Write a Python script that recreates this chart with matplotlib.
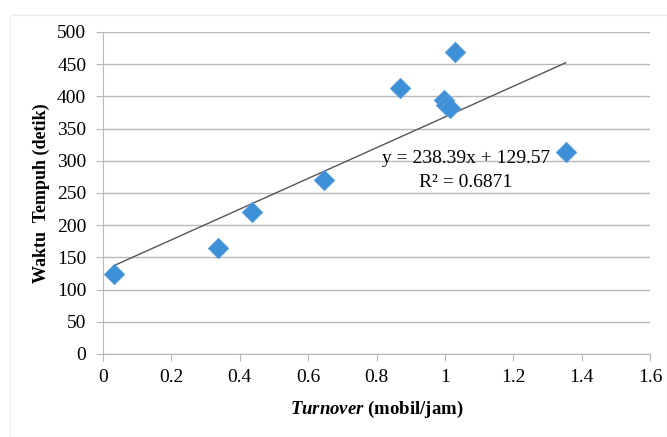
import numpy as np
import matplotlib.pyplot as plt
from matplotlib.patches import Rectangle

# data
turnover = [0.032, 0.335, 0.435, 0.645, 0.870, 0.998, 1.003, 1.015, 1.030, 1.353]
waktu_tempuh = [125, 165, 220, 270, 413, 395, 387, 382, 469, 314]

# garis tren linier (dari persamaan pada grafik)
slope = 238.39
intercept = 129.57
r2 = 0.6871

plt.rcParams['font.family'] = ['Liberation Serif', 'DejaVu Serif']
plt.rcParams['mathtext.fontset'] = 'custom'
plt.rcParams['mathtext.it'] = 'Liberation Serif:italic:bold'
plt.rcParams['mathtext.rm'] = 'Liberation Serif'

fig = plt.figure(figsize=(6.67, 4.37), dpi=100)
fig.patches.append(Rectangle((0.015, 0.0), 0.985, 0.965, transform=fig.transFigure,
                             fill=False, edgecolor='#eeeeee', linewidth=1))
ax = fig.add_axes([103 / 667, 1 - 354 / 437, 547 / 667, 322 / 437])

ax.scatter(turnover, waktu_tempuh, marker='D', s=110, color='#3d8fd6',
           edgecolors='#5aa0e0', linewidths=0.5, zorder=3)

xs = np.array([min(turnover), max(turnover)])
ax.plot(xs, slope * xs + intercept, color='#555555', linewidth=1, zorder=2)

ax.text(1.062, 303, 'y = %.2fx + %.2f' % (slope, intercept), ha='center', va='center', fontsize=14)
ax.text(1.062, 266, 'R² = %.4f' % r2, ha='center', va='center', fontsize=14)

ax.set_xlim(0, 1.6)
ax.set_ylim(0, 500)
ax.set_xticks(np.arange(0, 1.61, 0.2))
ax.set_xticklabels(['0', '0.2', '0.4', '0.6', '0.8', '1', '1.2', '1.4', '1.6'])
ax.set_yticks(np.arange(0, 501, 50))
ax.yaxis.grid(True, color='#b8b8b8', linewidth=1)
ax.set_axisbelow(True)
for s in ['top', 'right']:
    ax.spines[s].set_visible(False)
for s in ['left', 'bottom']:
    ax.spines[s].set_color('#b8b8b8')
ax.tick_params(axis='both', colors='#b8b8b8', labelcolor='black', labelsize=14, length=5)
ax.tick_params(axis='y', pad=7)
ax.tick_params(axis='x', pad=6)

ax.set_ylabel('Waktu  Tempuh (detik)', fontsize=13, fontweight='bold', labelpad=5)
ax.set_xlabel(r'$\mathit{Turnover}$ (mobil/jam)', fontsize=13.5, fontweight='bold', labelpad=9)

fig.savefig('out.png', dpi=100)
